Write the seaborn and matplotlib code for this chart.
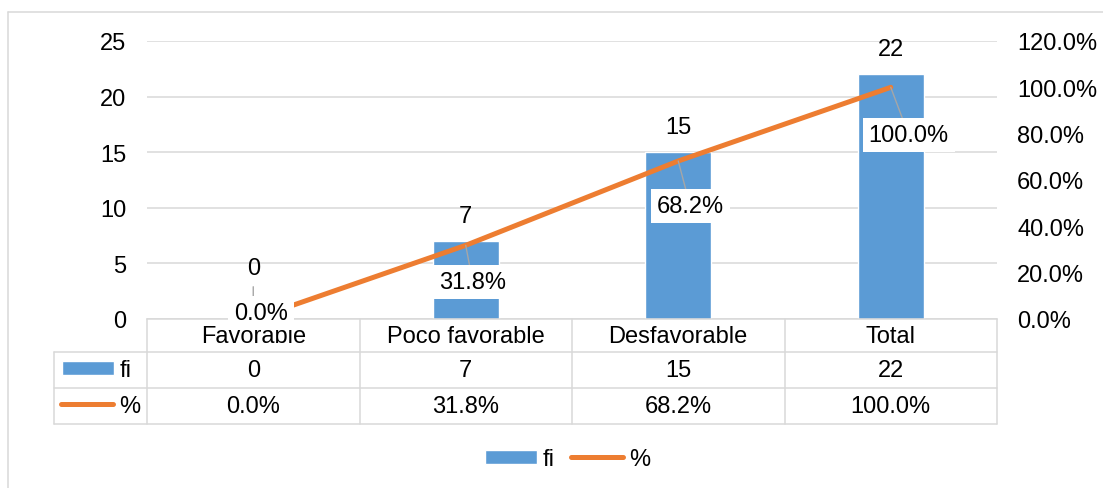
import numpy as np
import pandas as pd
import matplotlib
matplotlib.use('Agg')
import matplotlib.pyplot as plt
import matplotlib.transforms as mtransforms
from matplotlib.lines import Line2D
import seaborn as sns

# ---- data ----
categories = ['Favorable', 'Poco favorable', 'Desfavorable', 'Total']
fi = [0, 7, 15, 22]
pct = [0.0, 31.8, 68.2, 100.0]
series_names = ['fi', '%']
left_ticks = [0, 5, 10, 15, 20, 25]
right_ticks = [0, 20, 40, 60, 80, 100, 120]

BLUE = '#5B9BD5'
ORANGE = '#ED7D31'
GRID = '#D9D9D9'
LEAD = '#A6A6A6'
TXT = '#000000'

sns.set_theme(style='white')
plt.rcParams['font.family'] = ['Liberation Sans', 'DejaVu Sans']
FS = 17

W, H = 1103, 489
fig = plt.figure(figsize=(W / 100, H / 100), dpi=100)
L, R, T, B = 147, 997, 42, 320
ax = fig.add_axes([L / W, 1 - B / H, (R - L) / W, (B - T) / H])

df = pd.DataFrame({'cat': categories, 'fi': fi, 'pct': pct})
sns.barplot(data=df, x='cat', y='fi', ax=ax, color=BLUE, width=0.31,
            saturation=1, zorder=2)
ax.set_xlim(-0.5, len(categories) - 0.5)
ax.set_ylim(left_ticks[0], left_ticks[-1])
ax.set_yticks(left_ticks)
ax.set_yticklabels([str(t) for t in left_ticks])
ax.yaxis.grid(True, color=GRID, lw=1.1)
ax.set_axisbelow(True)
ax.set_xlabel('')
ax.set_ylabel('')
ax.tick_params(axis='x', length=0, labelbottom=False)
ax.tick_params(axis='y', length=0, pad=15, labelsize=FS, labelcolor=TXT)
for s in ['top', 'right', 'left']:
    ax.spines[s].set_visible(False)
ax.spines['bottom'].set_color(GRID)
ax.spines['bottom'].set_linewidth(1.1)

# bar labels
for i, v in enumerate(fi):
    if v == 0:
        ax.annotate(str(v), xy=(i, v), xytext=(0, 37), textcoords='offset points',
                    ha='center', va='center', fontsize=FS, color=TXT,
                    arrowprops=dict(arrowstyle='-', color=LEAD, lw=1,
                                    shrinkA=3.5, shrinkB=0), zorder=4)
    else:
        ax.annotate(str(v), xy=(i, v), xytext=(0, 18), textcoords='offset points',
                    ha='center', va='center', fontsize=FS, color=TXT, zorder=4)

# line on secondary axis
ax2 = ax.twinx()
pos = np.arange(len(categories))
sns.lineplot(x=pos, y=np.array(pct) / 100, ax=ax2, color=ORANGE, lw=3.6,
             solid_capstyle='round', zorder=2)
ax2.set_ylim(right_ticks[0] / 100, right_ticks[-1] / 100)
ax2.set_yticks([t / 100 for t in right_ticks])
ax2.set_yticklabels([f'{t:.1f}%' for t in right_ticks])
ax2.tick_params(axis='y', length=0, pad=14.4, labelsize=FS, labelcolor=TXT)
ax2.set_ylabel('')
for s in ax2.spines.values():
    s.set_visible(False)
if ax2.get_legend():
    ax2.get_legend().remove()

line_offsets = [(5.8, 4.5), (5, -26.6), (8.6, -32.4), (13, -34.6)]
for i, v in enumerate(pct):
    dx, dy = line_offsets[i]
    ax2.annotate(f'{v:.1f}%', xy=(i, v / 100), xytext=(dx, dy),
                 textcoords='offset points', ha='center', va='center',
                 fontsize=FS, color=TXT, zorder=5,
                 bbox=dict(boxstyle='square,pad=0.25', fc='white', ec='none'),
                 arrowprops=dict(arrowstyle='-', color=LEAD, lw=1,
                                 shrinkA=0, shrinkB=0))

# ---- data table ----
tr = mtransforms.blended_transform_factory(ax.transData, ax.transAxes)
n = len(categories)
px_unit = (R - L) / n
x_key = -0.5 - (L - 54) / px_unit
ah = B - T
def yax(py):
    return (B - py) / ah

y_h, y_1, y_2 = yax(353), yax(389), yax(425)
lk = dict(color=GRID, lw=1.1, transform=tr, clip_on=False, zorder=1)
for yy in (y_h, y_1, y_2):
    ax.plot([x_key, n - 0.5], [yy, yy], **lk)
for k in range(n + 1):
    ax.plot([k - 0.5, k - 0.5], [0, y_2], **lk)
ax.plot([x_key, x_key], [y_h, y_2], **lk)

for i, c in enumerate(categories):
    ax.text(i, yax(337), c, ha='center', va='center', fontsize=FS,
            color=TXT, transform=tr)
    ax.text(i, yax(371), str(fi[i]), ha='center', va='center', fontsize=FS,
            color=TXT, transform=tr)
    ax.text(i, yax(407), f'{pct[i]:.1f}%', ha='center', va='center',
            fontsize=FS, color=TXT, transform=tr)

bar_handle = ax.containers[0]
line_handle = ax2.lines[0]
leg_kw = dict(frameon=False, borderpad=0, borderaxespad=0, handlelength=2.2,
              handleheight=0.55, handletextpad=0.25, fontsize=FS,
              labelcolor=TXT)
fig.legend(handles=[bar_handle], labels=[series_names[0]], loc='center left',
           bbox_to_anchor=(62 / W, 1 - 371 / H), **leg_kw)
fig.legend(handles=[line_handle], labels=[series_names[1]], loc='center left',
           bbox_to_anchor=(61 / W, 1 - 407 / H), **leg_kw)

# bottom legend
fig.legend(handles=[bar_handle, line_handle], labels=series_names,
           loc='center left', bbox_to_anchor=(485 / W, 1 - 460 / H), ncol=2,
           columnspacing=0.7, **leg_kw)

# outer chart border (left & top visible)
fig.add_artist(Line2D([8 / W, 1], [1 - 13 / H, 1 - 13 / H], color=GRID, lw=1.1))
fig.add_artist(Line2D([8 / W, 8 / W], [0, 1 - 13 / H], color=GRID, lw=1.1))

fig.savefig('out.png', dpi=100, facecolor='white')
